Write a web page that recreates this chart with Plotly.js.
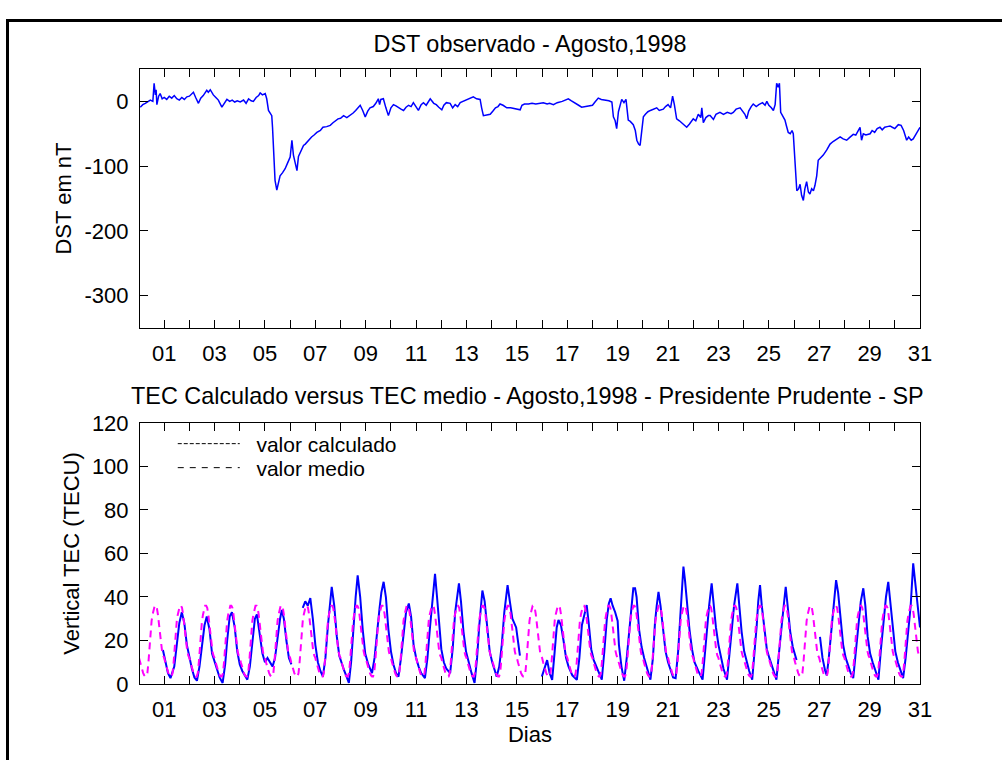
<!DOCTYPE html>
<html>
<head>
<meta charset="utf-8">
<script src="https://cdn.plot.ly/plotly-3.0.1.min.js"></script>
<style>
html,body{margin:0;padding:0;background:#fff;overflow:hidden;}
#chart{width:1002px;height:760px;}
#frame{position:absolute;left:6px;top:19px;width:1100px;height:1000px;border-left:3px solid #000;border-top:3px solid #000;pointer-events:none;}
</style>
</head>
<body>
<div id="chart"></div>
<div id="frame"></div>
<script>
// ---- DST observado (day of month, nT) ----
const dstDay = [0.05,0.15,0.25,0.35,0.45,0.55,0.60,0.65,0.68,0.71,0.78,0.84,0.92,1.0,1.1,1.2,1.3,1.4,1.5,1.6,1.7,1.8,1.9,2.0,2.1,2.16,2.25,2.36,2.45,2.55,2.69,2.75,2.83,2.95,3.05,3.15,3.29,3.4,3.49,3.6,3.7,3.8,3.9,4.02,4.15,4.25,4.35,4.45,4.54,4.65,4.75,4.81,4.9,5.01,5.07,5.14,5.2,5.27,5.3,5.34,5.37,5.40,5.47,5.53,5.60,5.7,5.80,5.9,6.0,6.07,6.13,6.2,6.27,6.33,6.4,6.53,6.6,6.73,6.85,6.95,7.06,7.2,7.3,7.45,7.59,7.7,7.8,7.9,8.0,8.12,8.25,8.38,8.5,8.6,8.7,8.78,8.88,8.98,9.08,9.17,9.3,9.4,9.5,9.55,9.6,9.7,9.8,9.9,10.0,10.1,10.2,10.3,10.4,10.5,10.6,10.7,10.8,10.89,11.0,11.09,11.2,11.29,11.4,11.56,11.7,11.8,11.9,12.02,12.1,12.2,12.35,12.45,12.55,12.65,12.75,12.88,13.0,13.1,13.2,13.27,13.4,13.54,13.6,13.67,13.8,13.94,14.05,14.15,14.25,14.33,14.45,14.6,14.75,14.9,14.99,15.13,15.2,15.3,15.46,15.6,15.75,15.92,16.05,16.2,16.3,16.45,16.6,16.8,16.95,17.04,17.15,17.3,17.45,17.57,17.7,17.85,18.0,18.1,18.23,18.35,18.5,18.65,18.77,18.83,18.9,18.96,19.03,19.1,19.16,19.25,19.33,19.42,19.5,19.62,19.7,19.76,19.83,19.89,19.95,20.02,20.1,20.2,20.3,20.42,20.55,20.65,20.81,20.9,21.0,21.1,21.18,21.25,21.34,21.45,21.55,21.65,21.74,21.85,22.0,22.1,22.2,22.3,22.34,22.4,22.5,22.6,22.67,22.8,22.9,23.06,23.2,23.35,23.5,23.59,23.7,23.86,23.95,24.05,24.12,24.2,24.3,24.38,24.5,24.6,24.75,24.85,24.92,25.0,25.1,25.18,25.25,25.31,25.37,25.42,25.47,25.55,25.64,25.7,25.77,25.85,25.92,25.97,26.04,26.11,26.18,26.24,26.3,26.37,26.43,26.5,26.57,26.63,26.7,26.77,26.83,26.9,26.96,27.05,27.16,27.3,27.43,27.55,27.7,27.83,27.95,28.09,28.2,28.35,28.45,28.55,28.62,28.68,28.75,28.85,29.02,29.1,29.2,29.3,29.41,29.5,29.6,29.7,29.81,29.9,30.0,30.14,30.25,30.35,30.47,30.55,30.65,30.73,30.85,30.93,31.0];
const dstVal = [-9,-5,-3,-1,2,0,28,10,18,-5,8,12,4,6,3,8,5,9,4,2,6,3,7,8,11,14,6,-3,5,9,17,14,18,10,6,2,-9,-2,3,0,2,-1,1,-1,2,-3,4,1,0,6,9,13,10,12,4,-14,-18,-22,-40,-71,-100,-122,-137,-125,-115,-110,-104,-95,-86,-60,-83,-95,-107,-85,-78,-68,-66,-60,-55,-52,-48,-45,-40,-39,-37,-33,-30,-27,-26,-22,-25,-22,-18,-14,-10,-6,-14,-24,-15,-10,-8,-3,4,-5,3,4,-10,-22,-10,-5,-7,-10,-12,-14,-9,-6,-8,-2,-8,-14,-5,-2,-6,4,-3,-5,-9,-13,-6,-2,-3,-10,-5,-8,-2,0,2,4,5,7,4,3,-10,-22,-21,-20,-15,-10,-8,-4,-6,-10,-10,-11,-12,-13,-6,-4,-4,-3,-4,-3,-2,-4,-3,-5,-2,0,2,4,1,-2,-6,-9,-8,-6,-6,-1,5,3,2,1,-1,-24,-30,-42,-16,-5,3,-2,3,-29,-31,-36,-45,-60,-66,-68,-50,-24,-20,-16,-14,-12,-10,-14,-12,-8,-5,-10,8,-5,-27,-30,-33,-36,-40,-35,-27,-30,-20,-25,-10,-33,-25,-22,-22,-28,-20,-17,-20,-17,-19,-17,-12,-10,-15,-20,-27,-15,-8,-4,-8,-5,-2,-6,0,-6,-10,-14,-5,28,22,28,-17,-22,-29,-38,-48,-50,-45,-50,-89,-138,-135,-128,-145,-153,-135,-124,-140,-143,-135,-138,-130,-115,-91,-88,-83,-75,-66,-62,-58,-55,-58,-60,-56,-51,-52,-45,-40,-60,-50,-52,-50,-45,-48,-42,-40,-44,-40,-39,-38,-40,-42,-36,-37,-45,-60,-55,-60,-58,-50,-45,-40];

// ---- TEC calculado (day of month, TECU); null = no data ----
const tecDay = [0.95,1.05,1.15,1.25,1.4,1.5,1.6,1.7,1.8,1.9,2.0,2.1,2.2,2.3,2.4,2.5,2.6,2.69,2.8,2.9,3.0,3.1,3.2,3.32,3.42,3.5,3.6,3.69,3.8,3.9,4.0,4.1,4.2,4.3,4.4,4.5,4.6,4.68,4.8,4.9,5.0,5.1,5.2,5.3,5.4,5.5,5.6,5.67,5.75,5.85,5.95,6.05,6.2,6.5,6.6,6.7,6.8,6.9,7.0,7.1,7.2,7.3,7.4,7.5,7.6,7.65,7.75,7.85,7.95,8.05,8.15,8.25,8.33,8.42,8.5,8.6,8.68,8.78,8.88,8.98,9.1,9.25,9.35,9.45,9.55,9.62,9.71,9.8,9.9,10.0,10.1,10.2,10.3,10.4,10.5,10.6,10.71,10.8,10.9,11.0,11.1,11.2,11.35,11.45,11.55,11.65,11.75,11.83,11.92,12.0,12.1,12.2,12.35,12.45,12.55,12.62,12.7,12.78,12.88,12.98,13.1,13.2,13.32,13.42,13.5,13.57,13.63,13.72,13.82,13.92,14.02,14.12,14.2,14.3,14.4,14.5,14.58,14.63,14.72,14.82,14.97,15.05,15.12,15.5,15.99,16.1,16.2,16.3,16.4,16.5,16.58,16.65,16.75,16.85,16.95,17.05,17.2,17.38,17.48,17.58,17.68,17.77,17.85,17.95,18.05,18.15,18.25,18.37,18.47,18.57,18.65,18.72,18.8,18.9,19.0,19.05,19.15,19.26,19.36,19.46,19.56,19.62,19.69,19.75,19.85,19.95,20.05,20.15,20.3,20.4,20.48,20.55,20.62,20.7,20.8,20.9,21.0,21.1,21.2,21.3,21.4,21.48,21.55,21.61,21.67,21.75,21.85,21.95,22.05,22.2,22.37,22.47,22.55,22.63,22.73,22.8,22.9,23.0,23.1,23.2,23.34,23.44,23.52,23.62,23.75,23.82,23.92,24.02,24.12,24.22,24.34,24.44,24.52,24.58,24.65,24.72,24.82,24.92,25.02,25.15,25.3,25.4,25.5,25.6,25.67,25.75,25.85,25.95,26.05,26.1,26.5,27.03,27.13,27.23,27.3,27.38,27.48,27.58,27.67,27.75,27.85,27.95,28.05,28.15,28.25,28.35,28.45,28.55,28.65,28.75,28.83,28.92,29.02,29.12,29.22,29.35,29.45,29.55,29.65,29.74,29.82,29.92,30.02,30.12,30.22,30.33,30.43,30.53,30.63,30.73,30.8,30.88,30.95,31.0];
const tecCalc = [15.6,10,5,2.7,8,18,28,33,28,18,12,7,3,1.5,8,17,27,31,25,14,10,7,3,0.5,9,20,31,33,26,15,9,6,4,2,8,20,30,32,22,14,10,12,10,8,12,22,30,34,30,20,12,9,null,35,38,36,39.5,30,18,10,6,3.4,12,27,40,44.7,36,22,13,9,6,3,0.5,10,25,40,50,40,25,14,9,5,12,25,35,42,47,40,25,15,9,5,3.4,12,24,33,37,31,18,12,8,5,2.7,12,26,40,50.6,40,25,16,10,7,5,16,33,40,46.3,38,24,15,9,5,0.5,12,26,36,43,38,25,15,10,6,3.4,8,18,33,42,45.5,38,30,26,18,13,null,3.4,8,11,5,1.9,15,26,29.4,27,20,12,8,4,1.9,12,27,32,36.3,28,16,11,8,5,2,15,30,37,39.4,36,33,29,18,8,1.5,12,25,37,44,44,40,25,17,12,8,2,12,28,36,42.4,36,24,15,10,6,3,2.7,15,30,42,54,48,36,25,16,10,6,2,15,27,36,46.3,37,26,18,12,7,2,14,26,36,46.3,37,24,15,10,6,2,14,27,38,45.5,36,26,16,12,7,2,14,27,37,44.7,36,24,17,13,11,null,21.7,12,6.3,4,12,24,38,47.8,42,28,18,12,8,5,2.7,15,28,38,44,36,22,14,10,6,2,16,30,40,47,38,24,15,10,6,2.7,12,26,36,55.5,47,40,32,26];

// ---- TEC medio: mean diurnal profile (UT hour 0..23, TECU) ----
const medioHour = [0,1,2,3,4,5,6,7,8,9,10,11,12,13,14,15,16,17,18,19,20,21,22,23];
const medioProfile = [12,10,8,6.5,5,4,3.5,3.5,5,10,17,24,29,32,35,36,36,35,32,27,22,18,15,13];
const monthDays = [0,1,2,3,4,5,6,7,8,9,10,11,12,13,14,15,16,17,18,19,20,21,22,23,24,25,26,27,28,29,30];

// ---- tick labels ----
const dayTicks = [1,2,3,4,5,6,7,8,9,10,11,12,13,14,15,16,17,18,19,20,21,22,23,24,25,26,27,28,29,30,31];
const dayLabels = ['01','','03','','05','','07','','09','','11','','13','','15','','17','','19','','21','','23','','25','','27','','29','','31'];
const dstTicks = [-300,-200,-100,0];
const dstLabels = ['-300','-200','-100','0'];
const tecTicks = [0,20,40,60,80,100,120];
const tecLabels = ['0','20','40','60','80','100','120'];

// medio series: the read profile laid over every day of the month
const medioX = [], medioY = [];
monthDays.forEach(d => medioHour.forEach((h, i) => { medioX.push(d + h / 24); medioY.push(medioProfile[i]); }));
medioX.push(31); medioY.push(medioProfile[0]);

const FONT = 'Liberation Sans, Arial, Helvetica, sans-serif';
const FS = 22;
const FT = 23.4;
const NB = '\u00a0\u00a0';

const traces = [
  {x: dstDay, y: dstVal, xaxis: 'x2', yaxis: 'y2', type: 'scatter', mode: 'lines',
   line: {color: '#0000ff', width: 1.5}, showlegend: false},
  {x: tecDay, y: tecCalc, xaxis: 'x', yaxis: 'y', type: 'scatter', mode: 'lines',
   line: {color: '#0000ff', width: 2}, connectgaps: false, showlegend: false, name: 'valor calculado'},
  {x: medioX, y: medioY, xaxis: 'x', yaxis: 'y', type: 'scatter', mode: 'lines',
   line: {color: '#ff00ff', width: 2, dash: '7px,5px'}, showlegend: false, name: 'valor medio'},
  // legend keys (black, as in the original)
  {x: [null], y: [null], xaxis: 'x', yaxis: 'y', type: 'scatter', mode: 'lines', name: NB + 'valor calculado',
   legend: 'legend', line: {color: '#000', width: 1, dash: '4px,2px'}},
  {x: [null], y: [null], xaxis: 'x', yaxis: 'y', type: 'scatter', mode: 'lines', name: NB + 'valor medio',
   legend: 'legend2', line: {color: '#000', width: 1, dash: '6px,6px'}}
];

const axCommon = {
  showline: true, linecolor: '#000', linewidth: 1, mirror: 'ticks',
  ticks: 'inside', ticklen: 8, tickwidth: 1, tickcolor: '#000',
  showgrid: false, zeroline: false, fixedrange: true,
  tickfont: {family: FONT, size: FS, color: '#000'}
};

const legCommon = {x: 0.042, xanchor: 'left', yref: 'paper', yanchor: 'middle',
  bgcolor: 'rgba(0,0,0,0)', borderwidth: 0, itemwidth: 62,
  font: {family: FONT, size: 21, color: '#000'}};

const layout = {
  width: 1002, height: 760,
  paper_bgcolor: '#fff', plot_bgcolor: '#fff',
  margin: {l: 140, r: 82, t: 69, b: 76},
  font: {family: FONT, size: FS, color: '#000'},
  title: {text: 'DST observado - Agosto,1998', x: 0.5, xref: 'paper', xanchor: 'center',
          y: 1 - 44 / 760, yref: 'container', yanchor: 'middle', font: {family: FONT, size: FT, color: '#000'}},
  xaxis: Object.assign({}, axCommon, {anchor: 'y', domain: [0, 1], range: [0.04, 31],
          tickmode: 'array', tickvals: dayTicks, ticktext: dayLabels, ticklabelstandoff: 6,
          title: {text: 'Dias', standoff: 5, font: {family: FONT, size: FS, color: '#000'}}}),
  yaxis: Object.assign({}, axCommon, {anchor: 'x', domain: [0, 0.4244], range: [0, 120],
          tickmode: 'array', tickvals: tecTicks, ticktext: tecLabels, ticklabelstandoff: 6,
          title: {text: 'Vertical TEC (TECU)', standoff: 6, font: {family: FONT, size: FS, color: '#000'}}}),
  xaxis2: Object.assign({}, axCommon, {anchor: 'y2', domain: [0, 1], range: [0.04, 31],
          tickmode: 'array', tickvals: dayTicks, ticktext: dayLabels, ticklabelstandoff: 6}),
  yaxis2: Object.assign({}, axCommon, {anchor: 'x2', domain: [0.5789, 1], range: [-350, 50],
          tickmode: 'array', tickvals: dstTicks, ticktext: dstLabels, ticklabelstandoff: 6,
          title: {text: 'DST em nT', standoff: 6, font: {family: FONT, size: FS, color: '#000'}}}),
  showlegend: true,
  legend: Object.assign({}, legCommon, {y: (684 - 444) / 615}),
  legend2: Object.assign({}, legCommon, {y: (684 - 468) / 615}),
  annotations: [
    {text: 'TEC Calculado versus TEC medio - Agosto,1998 - Presidente Prudente - SP',
     xref: 'paper', yref: 'paper', x: 0.497, y: (684 - 396) / 615, xanchor: 'center', yanchor: 'middle',
     showarrow: false, font: {family: FONT, size: FT, color: '#000'}}
  ]
};

Plotly.newPlot('chart', traces, layout, {displayModeBar: false, staticPlot: true});
</script>
</body>
</html>
